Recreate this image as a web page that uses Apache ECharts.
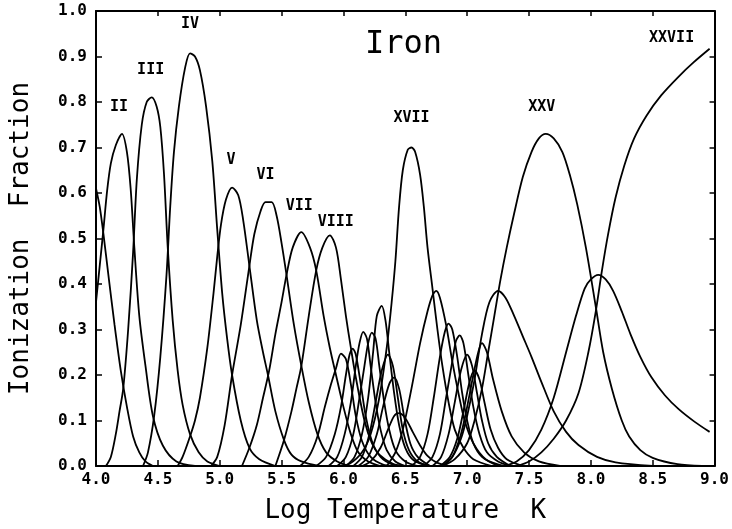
<!DOCTYPE html>
<html><head><meta charset="utf-8">
<script src="https://cdn.jsdelivr.net/npm/echarts/dist/echarts.min.js"></script>
<style>html,body{margin:0;padding:0;background:#fff}#c{width:732px;height:529px}</style>
</head><body><div id="c"></div>
<script>
// Ion stage names (Fe I ... Fe XXVII)
const ionNames = ['I','II','III','IV','V','VI','VII','VIII','IX','X','XI','XII','XIII','XIV','XV','XVI','XVII','XVIII','XIX','XX','XXI','XXII','XXIII','XXIV','XXV','XXVI','XXVII'];
// Which ion curves carry a label in the figure
const labeledIons = ['II','III','IV','V','VI','VII','VIII','XVII','XXV','XXVII'];
// x tick values and y tick values
const xTicks = [4.0,4.5,5.0,5.5,6.0,6.5,7.0,7.5,8.0,8.5,9.0];
const yTicks = [0.0,0.1,0.2,0.3,0.4,0.5,0.6,0.7,0.8,0.9,1.0];

// [log T, ionization fraction]
const feI = [[4.00,0.61],[4.03,0.57],[4.06,0.51],[4.10,0.42],[4.15,0.31],[4.20,0.21],[4.25,0.13],[4.30,0.065],[4.35,0.03],[4.40,0.01],[4.46,0]];
const feII = [[4.00,0.36],[4.03,0.44],[4.06,0.52],[4.09,0.605],[4.12,0.665],[4.16,0.705],[4.21,0.73],[4.25,0.69],[4.28,0.61],[4.31,0.48],[4.35,0.33],[4.40,0.22],[4.46,0.11],[4.54,0.045],[4.65,0.01],[4.80,0]];
const feIII = [[4.08,0],[4.12,0.02],[4.16,0.07],[4.19,0.12],[4.22,0.17],[4.26,0.30],[4.30,0.47],[4.33,0.63],[4.37,0.75],[4.41,0.80],[4.45,0.81],[4.49,0.79],[4.52,0.745],[4.55,0.64],[4.58,0.48],[4.62,0.32],[4.66,0.21],[4.70,0.135],[4.76,0.07],[4.83,0.03],[4.90,0.01],[5.00,0]];
const feIV = [[4.38,0],[4.42,0.03],[4.47,0.11],[4.52,0.24],[4.57,0.42],[4.60,0.57],[4.63,0.69],[4.67,0.79],[4.72,0.875],[4.76,0.907],[4.80,0.90],[4.84,0.87],[4.89,0.79],[4.94,0.67],[4.98,0.52],[5.02,0.38],[5.06,0.28],[5.10,0.20],[5.17,0.10],[5.24,0.04],[5.32,0.015],[5.45,0]];
const feV = [[4.66,0],[4.70,0.02],[4.76,0.065],[4.80,0.10],[4.84,0.15],[4.90,0.26],[4.95,0.38],[4.98,0.46],[5.01,0.53],[5.05,0.585],[5.10,0.612],[5.15,0.595],[5.19,0.54],[5.24,0.44],[5.30,0.32],[5.35,0.25],[5.39,0.20],[5.45,0.12],[5.52,0.057],[5.58,0.025],[5.66,0.01],[5.80,0]];
const feVI = [[4.93,0],[4.98,0.02],[5.04,0.09],[5.10,0.20],[5.17,0.31],[5.24,0.44],[5.28,0.51],[5.33,0.56],[5.37,0.58],[5.42,0.58],[5.46,0.55],[5.50,0.49],[5.54,0.42],[5.60,0.31],[5.66,0.22],[5.72,0.14],[5.79,0.07],[5.86,0.03],[5.95,0.01],[6.05,0]];
const feVII = [[5.18,0],[5.24,0.04],[5.30,0.09],[5.35,0.15],[5.40,0.21],[5.45,0.29],[5.50,0.36],[5.54,0.42],[5.59,0.48],[5.66,0.514],[5.73,0.48],[5.78,0.43],[5.84,0.33],[5.89,0.26],[5.94,0.20],[6.00,0.13],[6.06,0.07],[6.12,0.03],[6.20,0.01],[6.30,0]];
const feVIII = [[5.45,0],[5.52,0.057],[5.58,0.12],[5.62,0.17],[5.66,0.22],[5.72,0.33],[5.78,0.43],[5.83,0.48],[5.89,0.507],[5.94,0.48],[5.98,0.41],[6.02,0.33],[6.06,0.26],[6.10,0.195],[6.17,0.10],[6.23,0.05],[6.29,0.025],[6.40,0.005],[6.50,0]];
const feIX = [[5.65,0],[5.72,0.02],[5.79,0.065],[5.85,0.13],[5.90,0.18],[5.94,0.215],[5.98,0.247],[6.02,0.235],[6.06,0.18],[6.10,0.11],[6.15,0.055],[6.22,0.02],[6.32,0.003],[6.40,0]];
const feX = [[5.78,0],[5.86,0.02],[5.93,0.07],[5.98,0.13],[6.02,0.20],[6.05,0.245],[6.075,0.258],[6.10,0.245],[6.14,0.18],[6.18,0.11],[6.23,0.055],[6.30,0.02],[6.40,0.003],[6.50,0]];
const feXI = [[5.88,0],[5.95,0.02],[6.01,0.07],[6.06,0.14],[6.10,0.22],[6.13,0.27],[6.16,0.295],[6.19,0.28],[6.22,0.22],[6.26,0.14],[6.30,0.08],[6.35,0.035],[6.42,0.01],[6.50,0]];
const feXII = [[5.95,0],[6.02,0.02],[6.08,0.07],[6.13,0.15],[6.17,0.22],[6.20,0.27],[6.23,0.293],[6.26,0.28],[6.29,0.22],[6.33,0.14],[6.37,0.08],[6.42,0.035],[6.50,0.01],[6.60,0]];
const feXIII = [[6.02,0],[6.09,0.02],[6.15,0.07],[6.20,0.15],[6.24,0.25],[6.27,0.33],[6.31,0.352],[6.34,0.32],[6.37,0.25],[6.41,0.16],[6.45,0.09],[6.50,0.04],[6.57,0.012],[6.70,0]];
const feXIV = [[6.08,0],[6.15,0.02],[6.21,0.07],[6.26,0.14],[6.31,0.21],[6.36,0.245],[6.40,0.22],[6.44,0.15],[6.48,0.08],[6.53,0.035],[6.60,0.01],[6.70,0]];
const feXV = [[6.12,0],[6.20,0.02],[6.27,0.07],[6.32,0.13],[6.37,0.18],[6.41,0.195],[6.45,0.17],[6.49,0.11],[6.54,0.05],[6.60,0.02],[6.70,0]];
const feXVI = [[6.15,0],[6.22,0.01],[6.30,0.04],[6.36,0.08],[6.41,0.11],[6.45,0.116],[6.50,0.105],[6.56,0.075],[6.62,0.045],[6.68,0.022],[6.75,0.008],[6.85,0]];
const feXVII = [[5.95,0],[6.05,0.005],[6.15,0.03],[6.22,0.07],[6.29,0.15],[6.35,0.26],[6.39,0.36],[6.42,0.45],[6.45,0.57],[6.48,0.65],[6.52,0.695],[6.55,0.70],[6.58,0.69],[6.62,0.64],[6.65,0.57],[6.68,0.48],[6.72,0.39],[6.76,0.30],[6.80,0.22],[6.85,0.14],[6.90,0.08],[6.97,0.04],[7.05,0.015],[7.20,0]];
const feXVIII = [[6.35,0],[6.42,0.03],[6.48,0.08],[6.55,0.17],[6.62,0.27],[6.68,0.34],[6.72,0.375],[6.75,0.385],[6.78,0.37],[6.83,0.31],[6.88,0.23],[6.93,0.16],[6.98,0.10],[7.05,0.05],[7.15,0.015],[7.30,0]];
const feXIX = [[6.55,0],[6.62,0.02],[6.68,0.07],[6.73,0.15],[6.78,0.24],[6.82,0.295],[6.85,0.313],[6.88,0.30],[6.92,0.24],[6.96,0.16],[7.00,0.10],[7.05,0.05],[7.12,0.02],[7.25,0]];
const feXX = [[6.65,0],[6.72,0.02],[6.78,0.07],[6.83,0.15],[6.88,0.23],[6.91,0.275],[6.94,0.287],[6.97,0.27],[7.01,0.20],[7.05,0.13],[7.10,0.07],[7.16,0.03],[7.25,0.01],[7.35,0]];
const feXXI = [[6.72,0],[6.79,0.02],[6.85,0.07],[6.90,0.14],[6.95,0.21],[7.00,0.245],[7.04,0.22],[7.08,0.16],[7.12,0.10],[7.17,0.05],[7.24,0.02],[7.35,0]];
const feXXII = [[6.78,0],[6.86,0.02],[6.92,0.06],[6.97,0.12],[7.02,0.185],[7.06,0.21],[7.10,0.19],[7.14,0.14],[7.19,0.08],[7.25,0.04],[7.32,0.015],[7.45,0]];
const feXXIII = [[6.80,0],[6.88,0.02],[6.95,0.07],[7.00,0.13],[7.05,0.20],[7.09,0.25],[7.12,0.27],[7.16,0.25],[7.21,0.19],[7.28,0.12],[7.36,0.065],[7.46,0.03],[7.58,0.01],[7.75,0]];
const feXXIV = [[6.80,0],[6.88,0.02],[6.95,0.06],[7.00,0.11],[7.06,0.19],[7.12,0.29],[7.18,0.36],[7.25,0.385],[7.31,0.37],[7.38,0.33],[7.45,0.285],[7.52,0.24],[7.60,0.185],[7.70,0.12],[7.80,0.075],[7.90,0.046],[8.05,0.02],[8.20,0.008],[8.50,0]];
const feXXV = [[6.80,0],[6.90,0.015],[7.00,0.05],[7.06,0.10],[7.12,0.17],[7.17,0.25],[7.22,0.33],[7.27,0.41],[7.32,0.48],[7.38,0.555],[7.45,0.635],[7.52,0.69],[7.58,0.72],[7.635,0.73],[7.70,0.72],[7.77,0.69],[7.83,0.64],[7.89,0.575],[7.96,0.48],[8.04,0.35],[8.10,0.25],[8.17,0.17],[8.25,0.10],[8.31,0.065],[8.40,0.035],[8.50,0.018],[8.70,0.004],[8.90,0]];
const feXXVI = [[7.30,0],[7.40,0.01],[7.50,0.035],[7.60,0.08],[7.70,0.15],[7.80,0.25],[7.88,0.33],[7.95,0.39],[8.00,0.41],[8.06,0.42],[8.12,0.41],[8.18,0.385],[8.25,0.34],[8.32,0.29],[8.40,0.24],[8.49,0.195],[8.60,0.155],[8.71,0.125],[8.84,0.097],[8.96,0.075]];
const feXXVII = [[7.40,0],[7.50,0.01],[7.60,0.03],[7.70,0.06],[7.80,0.10],[7.90,0.16],[7.98,0.25],[8.04,0.34],[8.09,0.43],[8.14,0.51],[8.20,0.59],[8.27,0.66],[8.35,0.72],[8.45,0.77],[8.57,0.815],[8.71,0.856],[8.83,0.887],[8.96,0.917]];

const ionData = [feI,feII,feIII,feIV,feV,feVI,feVII,feVIII,feIX,feX,feXI,feXII,feXIII,feXIV,feXV,feXVI,feXVII,feXVIII,feXIX,feXX,feXXI,feXXII,feXXIII,feXXIV,feXXV,feXXVI,feXXVII];

// label placement relative to each curve's peak (pixels)
const labelOffsets = {II:[-3,-27],III:[-1,-27],IV:[0,-29],V:[-1,-27],VI:[0,-27],VII:[-2,-26],VIII:[6,-13],XVII:[0,-29],XXV:[-4,-27],XXVII:[-38,-11]};

const mono = '"DejaVu Sans Mono", "Liberation Mono", monospace';
const chart = echarts.init(document.getElementById('c'), null, {renderer:'canvas'});

const series = ionNames.map((name, i) => {
  const s = {
    name: name, type: 'line', data: ionData[i],
    showSymbol: false, symbol: 'none', smooth: 0.3,
    lineStyle: {color: '#000', width: 1.8}, silent: true, animation: false
  };
  if (labeledIons.includes(name)) {
    s.markPoint = {
      symbol: 'circle', symbolSize: 1, itemStyle: {color: 'rgba(0,0,0,0)'},
      data: [{type: 'max', valueDim: 'y'}],
      label: {show: true, formatter: name, offset: labelOffsets[name], color: '#000',
        fontFamily: mono, fontWeight: 'bold', fontSize: 15}
    };
  }
  return s;
});

const axisLine = {show: true, onZero: false, lineStyle: {color: '#000', width: 2}};
chart.setOption({
  animation: false,
  backgroundColor: '#fff',
  grid: {left: 96, right: 16, top: 11, bottom: 61, containLabel: false},
  xAxis: [{
    type: 'value', min: xTicks[0], max: xTicks[xTicks.length-1], interval: 0.5, position: 'bottom',
    axisLine: axisLine, splitLine: {show: false},
    axisTick: {show: true, inside: true, length: 6, lineStyle: {color: '#000', width: 1.5}},
    axisLabel: {color: '#000', fontFamily: mono, fontWeight: 'bold', fontSize: 16, margin: 6,
      formatter: v => v.toFixed(1)},
    name: 'Log Temperature  K', nameLocation: 'middle', nameGap: 32,
    nameTextStyle: {color: '#000', fontFamily: mono, fontSize: 26}
  }, {
    type: 'value', min: xTicks[0], max: xTicks[xTicks.length-1], interval: 0.5, position: 'top',
    axisLine: axisLine, splitLine: {show: false},
    axisTick: {show: true, inside: true, length: 5, lineStyle: {color: '#000', width: 1.5}},
    axisLabel: {show: false}
  }],
  yAxis: [{
    type: 'value', min: yTicks[0], max: yTicks[yTicks.length-1], interval: 0.1, position: 'left',
    axisLine: axisLine, splitLine: {show: false},
    axisTick: {show: true, inside: true, length: 6, lineStyle: {color: '#000', width: 1.5}},
    axisLabel: {color: '#000', fontFamily: mono, fontWeight: 'bold', fontSize: 16, margin: 9,
      formatter: v => v.toFixed(1)},
    name: 'Ionization  Fraction', nameLocation: 'middle', nameGap: 62, nameRotate: 90,
    nameTextStyle: {color: '#000', fontFamily: mono, fontSize: 26}
  }, {
    type: 'value', min: yTicks[0], max: yTicks[yTicks.length-1], interval: 0.1, position: 'right',
    axisLine: axisLine, splitLine: {show: false},
    axisTick: {show: true, inside: true, length: 5, lineStyle: {color: '#000', width: 1.5}},
    axisLabel: {show: false}
  }],
  graphic: [{
    type: 'text', left: 365, top: 29,
    style: {text: 'Iron', fill: '#000', font: '32px ' + mono}
  }],
  series: series
});
</script>
</body></html>
